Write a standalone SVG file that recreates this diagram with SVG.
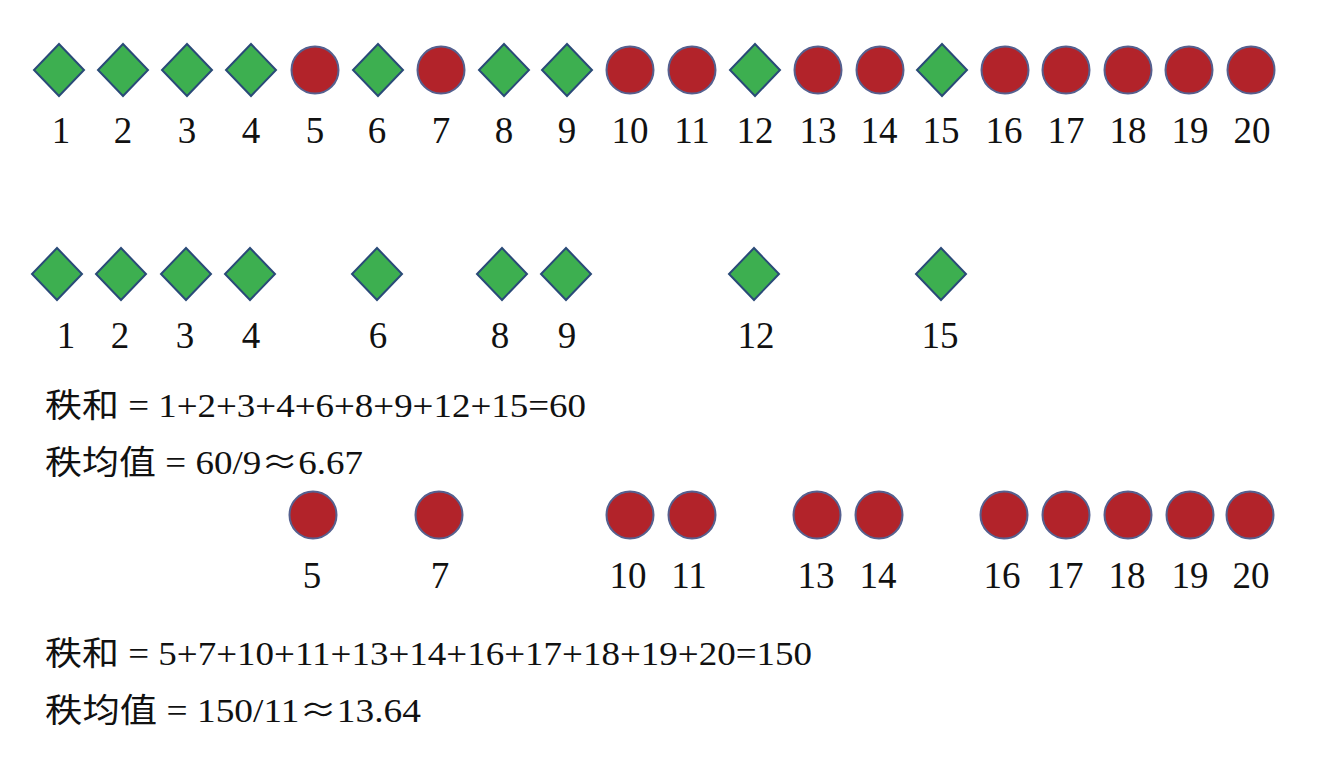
<svg xmlns="http://www.w3.org/2000/svg" width="1321" height="772" viewBox="0 0 1321 772">
<defs>
<style>
.d{fill:#3DAF50;stroke:#2A4A78;stroke-width:2;stroke-linejoin:miter}
.c{fill:#B2232A;stroke:#55608F;stroke-width:2}
.n{font-size:37px;fill:#111;text-anchor:middle}
.t{font-size:33px;fill:#111}
.ap{font-family:"Noto Sans CJK SC",sans-serif}
</style>
<polygon id="dia" points="0,-26 25,0 0,26 -25,0"/>
</defs>
<rect width="1321" height="772" fill="#fff"/>
<g id="row1" font-family="Liberation Serif, Times New Roman, serif">
<g id="r1n1"><use href="#dia" class="d" x="59" y="70"/><text class="n" x="61" y="143">1</text></g>
<g id="r1n2"><use href="#dia" class="d" x="123" y="70"/><text class="n" x="123" y="143">2</text></g>
<g id="r1n3"><use href="#dia" class="d" x="187" y="70"/><text class="n" x="187" y="143">3</text></g>
<g id="r1n4"><use href="#dia" class="d" x="251" y="70"/><text class="n" x="251" y="143">4</text></g>
<g id="r1n5"><circle class="c" cx="315" cy="70" r="23.5"/><text class="n" x="315" y="143">5</text></g>
<g id="r1n6"><use href="#dia" class="d" x="378" y="70"/><text class="n" x="377" y="143">6</text></g>
<g id="r1n7"><circle class="c" cx="441" cy="70" r="23.5"/><text class="n" x="441" y="143">7</text></g>
<g id="r1n8"><use href="#dia" class="d" x="504" y="70"/><text class="n" x="504" y="143">8</text></g>
<g id="r1n9"><use href="#dia" class="d" x="567" y="70"/><text class="n" x="567" y="143">9</text></g>
<g id="r1n10"><circle class="c" cx="630" cy="70" r="23.5"/><text class="n" x="630" y="143">10</text></g>
<g id="r1n11"><circle class="c" cx="692" cy="70" r="23.5"/><text class="n" x="692" y="143">11</text></g>
<g id="r1n12"><use href="#dia" class="d" x="755" y="70"/><text class="n" x="755" y="143">12</text></g>
<g id="r1n13"><circle class="c" cx="818" cy="70" r="23.5"/><text class="n" x="818" y="143">13</text></g>
<g id="r1n14"><circle class="c" cx="880" cy="70" r="23.5"/><text class="n" x="879" y="143">14</text></g>
<g id="r1n15"><use href="#dia" class="d" x="942" y="70"/><text class="n" x="941" y="143">15</text></g>
<g id="r1n16"><circle class="c" cx="1005" cy="70" r="23.5"/><text class="n" x="1004" y="143">16</text></g>
<g id="r1n17"><circle class="c" cx="1066" cy="70" r="23.5"/><text class="n" x="1066" y="143">17</text></g>
<g id="r1n18"><circle class="c" cx="1128" cy="70" r="23.5"/><text class="n" x="1128" y="143">18</text></g>
<g id="r1n19"><circle class="c" cx="1189" cy="70" r="23.5"/><text class="n" x="1190" y="143">19</text></g>
<g id="r1n20"><circle class="c" cx="1251" cy="70" r="23.5"/><text class="n" x="1252" y="143">20</text></g>
</g>
<g id="row2" font-family="Liberation Serif, Times New Roman, serif">
<g id="r2n1"><use href="#dia" class="d" x="57" y="274"/><text class="n" x="66" y="348">1</text></g>
<g id="r2n2"><use href="#dia" class="d" x="121" y="274"/><text class="n" x="120" y="348">2</text></g>
<g id="r2n3"><use href="#dia" class="d" x="186" y="274"/><text class="n" x="185" y="348">3</text></g>
<g id="r2n4"><use href="#dia" class="d" x="250" y="274"/><text class="n" x="251" y="348">4</text></g>
<g id="r2n6"><use href="#dia" class="d" x="377" y="274"/><text class="n" x="378" y="348">6</text></g>
<g id="r2n8"><use href="#dia" class="d" x="502" y="274"/><text class="n" x="500" y="348">8</text></g>
<g id="r2n9"><use href="#dia" class="d" x="566" y="274"/><text class="n" x="567" y="348">9</text></g>
<g id="r2n12"><use href="#dia" class="d" x="754" y="274"/><text class="n" x="756" y="348">12</text></g>
<g id="r2n15"><use href="#dia" class="d" x="941" y="274"/><text class="n" x="940" y="348">15</text></g>
</g>
<g id="green-stats" font-family="Liberation Serif, Noto Sans CJK SC, serif">
<text class="t" x="45" y="417" textLength="541" lengthAdjust="spacingAndGlyphs">秩和 = 1+2+3+4+6+8+9+12+15=60</text>
<text class="t" x="45" y="474" textLength="318" lengthAdjust="spacingAndGlyphs">秩均值 = 60/9<tspan class="ap">≈</tspan>6.67</text>
</g>
<g id="row3" font-family="Liberation Serif, Times New Roman, serif">
<g id="r3n5"><circle class="c" cx="313" cy="515" r="23.5"/><text class="n" x="312" y="588">5</text></g>
<g id="r3n7"><circle class="c" cx="439" cy="515" r="23.5"/><text class="n" x="440" y="588">7</text></g>
<g id="r3n10"><circle class="c" cx="630" cy="515" r="23.5"/><text class="n" x="628" y="588">10</text></g>
<g id="r3n11"><circle class="c" cx="692" cy="515" r="23.5"/><text class="n" x="689" y="588">11</text></g>
<g id="r3n13"><circle class="c" cx="817" cy="515" r="23.5"/><text class="n" x="816" y="588">13</text></g>
<g id="r3n14"><circle class="c" cx="879" cy="515" r="23.5"/><text class="n" x="878" y="588">14</text></g>
<g id="r3n16"><circle class="c" cx="1004" cy="515" r="23.5"/><text class="n" x="1002" y="588">16</text></g>
<g id="r3n17"><circle class="c" cx="1066" cy="515" r="23.5"/><text class="n" x="1065" y="588">17</text></g>
<g id="r3n18"><circle class="c" cx="1128" cy="515" r="23.5"/><text class="n" x="1127" y="588">18</text></g>
<g id="r3n19"><circle class="c" cx="1190" cy="515" r="23.5"/><text class="n" x="1190" y="588">19</text></g>
<g id="r3n20"><circle class="c" cx="1250" cy="515" r="23.5"/><text class="n" x="1251" y="588">20</text></g>
</g>
<g id="red-stats" font-family="Liberation Serif, Noto Sans CJK SC, serif">
<text class="t" x="45" y="665" textLength="767" lengthAdjust="spacingAndGlyphs">秩和 = 5+7+10+11+13+14+16+17+18+19+20=150</text>
<text class="t" x="45" y="722" textLength="376" lengthAdjust="spacingAndGlyphs">秩均值 = 150/11<tspan class="ap">≈</tspan>13.64</text>
</g>
<g id="connectors"/>
</svg>
